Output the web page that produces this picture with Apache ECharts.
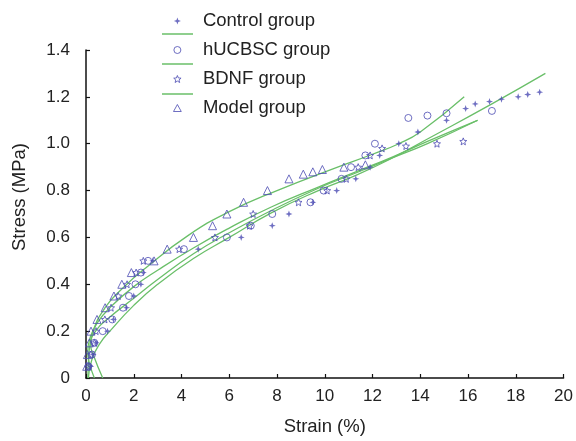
<!DOCTYPE html>
<html>
<head>
<meta charset="utf-8">
<script src="https://cdn.jsdelivr.net/npm/echarts@6/dist/echarts.min.js"></script>
<style>
  html, body { margin: 0; padding: 0; background: #fff; }
  #chart { width: 576px; height: 441px; }
</style>
</head>
<body>
<div id="chart"></div>
<script>
// Scatter data: strain (%) and stress (MPa)
const controlStrain = [0.2, 0.3, 0.42, 0.9, 1.15, 1.7, 2.0, 2.3, 2.4, 2.8, 4.7, 6.5, 7.8, 8.5, 9.5, 10.5, 11.3, 11.9, 12.3, 13.1, 13.9, 15.1, 15.9, 16.3, 16.9, 17.4, 18.1, 18.5, 19.0]
const controlStress = [0.05, 0.10, 0.15, 0.20, 0.25, 0.30, 0.35, 0.40, 0.45, 0.50, 0.55, 0.60, 0.65, 0.70, 0.75, 0.80, 0.85, 0.90, 0.95, 1.00, 1.05, 1.10, 1.15, 1.17, 1.18, 1.19, 1.20, 1.21, 1.22]

const hucbscStrain = [0.1, 0.25, 0.35, 0.7, 1.1, 1.55, 1.8, 2.07, 2.3, 2.6, 4.1, 5.9, 6.9, 7.8, 9.4, 9.95, 10.7, 11.1, 11.7, 12.1, 13.5, 14.3, 15.1, 17.0]
const hucbscStress = [0.05, 0.10, 0.15, 0.20, 0.25, 0.30, 0.35, 0.40, 0.45, 0.50, 0.55, 0.60, 0.65, 0.70, 0.75, 0.80, 0.85, 0.90, 0.95, 1.00, 1.11, 1.12, 1.13, 1.14]

const bdnfStrain = [0.12, 0.2, 0.35, 0.42, 0.79, 1.05, 1.35, 1.72, 2.1, 2.4, 3.9, 5.4, 6.85, 7.0, 8.9, 10.1, 10.9, 11.4, 11.9, 12.4, 13.4, 14.7, 15.8]
const bdnfStress = [0.05, 0.10, 0.15, 0.20, 0.25, 0.30, 0.35, 0.40, 0.45, 0.50, 0.55, 0.60, 0.65, 0.70, 0.75, 0.80, 0.85, 0.90, 0.95, 0.98, 0.99, 1.00, 1.01]

const modelStrain = [0.03, 0.06, 0.14, 0.21, 0.46, 0.8, 1.17, 1.5, 1.9, 2.85, 3.4, 4.5, 5.3, 5.9, 6.6, 7.6, 8.5, 9.1, 9.5, 9.9, 10.8, 11.7]
const modelStress = [0.05, 0.10, 0.15, 0.20, 0.25, 0.30, 0.35, 0.40, 0.45, 0.50, 0.55, 0.60, 0.65, 0.70, 0.75, 0.80, 0.85, 0.87, 0.88, 0.89, 0.90, 0.91]

// Trend curves, points
const controlFitStrain = [0.1, 0.25, 0.6, 1.0, 2.0, 3.0, 4.5, 6.0, 7.76, 9.73, 11.3, 12.85, 14.3, 17.0, 19.24]
const controlFitStress = [0.0, 0.08, 0.15, 0.2, 0.31, 0.40, 0.51, 0.60, 0.705, 0.80, 0.865, 0.94, 1.02, 1.17, 1.30]

const hucbscFitStrain = [0.7, 0.3, 0.2, 0.4, 1.0, 2.0, 3.0, 4.5, 6.0, 7.76, 9.73, 11.3, 12.85, 14.3, 16.4]
const hucbscFitStress = [0.0, 0.1, 0.14, 0.2, 0.26, 0.34, 0.42, 0.53, 0.62, 0.715, 0.81, 0.875, 0.94, 1.0, 1.10]

const bdnfFitStrain = [0.35, 0.15, 0.07, 0.2, 0.5, 1.0, 2.0, 3.0, 4.5, 6.0, 7.76, 9.73, 11.3, 12.85, 14.3, 16.4]
const bdnfFitStress = [0.0, 0.06, 0.11, 0.18, 0.24, 0.3, 0.39, 0.46, 0.555, 0.64, 0.73, 0.815, 0.88, 0.944, 1.01, 1.10]

const modelFitStrain = [0.08, 0.12, 0.3, 0.8, 1.5, 2.5, 4.3, 6.0, 8.0, 10.4, 12.0, 13.1, 14.0, 15.84]
const modelFitStress = [0.0, 0.1, 0.2, 0.3, 0.38, 0.47, 0.61, 0.71, 0.8, 0.895, 0.955, 1.0, 1.05, 1.2]

const pairs = (xs, ys) => xs.map((x, i) => [x, ys[i]])

const font = 'Liberation Sans, Arial, sans-serif'
const markColor = '#4b4bb3'
const fitColor = '#6abf69'

const star4 = 'path://M0,-5L1.3,-1.3L5,0L1.3,1.3L0,5L-1.3,1.3L-5,0L-1.3,-1.3Z'
const star5 = 'path://M0,-5L1.3,-1.8L4.76,-1.55L2.1,0.7L2.94,4.05L0,2.2L-2.94,4.05L-2.1,0.7L-4.76,-1.55L-1.3,-1.8Z'
const ring = 'path://M5,0A5,5,0,1,1,-5,0A5,5,0,1,1,5,0Z'
const tri = 'path://M0,-5L5,4L-5,4Z'

const hollow = { color: 'rgba(0,0,0,0)', borderColor: markColor, borderWidth: 1 }

const fitSeries = (name, xs, ys) => ({
  name,
  type: 'line',
  data: pairs(xs, ys),
  smooth: true,
  showSymbol: false,
  silent: true,
  z: 1,
  itemStyle: { color: fitColor },
  lineStyle: { color: fitColor, width: 1.3 }
})

const chart = echarts.init(document.getElementById('chart'))

chart.setOption({
  animation: false,
  textStyle: { fontFamily: font },
  grid: { left: 86, right: 10, top: 50, bottom: 59 },
  legend: [
    {
      data: [
        { name: 'Control group', icon: star4 },
        { name: 'hUCBSC group', icon: ring, itemStyle: hollow },
        { name: 'BDNF group', icon: star5, itemStyle: hollow },
        { name: 'Model group', icon: tri, itemStyle: hollow }
      ],
      orient: 'vertical',
      left: 173,
      top: 11,
      padding: 0,
      itemWidth: 31,
      itemHeight: 7,
      itemGap: 9,
      itemTextGap: 14,
      selectedMode: false,
      textStyle: { fontSize: 18.5, color: '#222', lineHeight: 20, fontFamily: font, padding: [0, 0, 0, 5] }
    },
    {
      data: ['Control fit', 'hUCBSC fit', 'BDNF fit'],
      orient: 'vertical',
      left: 162,
      top: 24,
      padding: 0,
      icon: 'rect',
      itemWidth: 31,
      itemHeight: 1.5,
      itemGap: 10,
      selectedMode: false,
      formatter: () => ' ',
      textStyle: { fontSize: 17, lineHeight: 20 }
    }
  ],
  xAxis: {
    type: 'value',
    min: 0,
    max: 20,
    interval: 2,
    name: 'Strain (%)',
    nameLocation: 'middle',
    nameGap: 39,
    nameTextStyle: { fontSize: 18.5, color: '#222', fontFamily: font },
    splitLine: { show: false },
    axisLine: { lineStyle: { color: '#111', width: 1.5 } },
    axisTick: { inside: true, length: 4, lineStyle: { color: '#111', width: 1.2 } },
    axisLabel: { fontSize: 17, color: '#222', margin: 10, fontFamily: font }
  },
  yAxis: {
    type: 'value',
    min: 0,
    max: 1.4,
    interval: 0.2,
    name: 'Stress (MPa)',
    nameLocation: 'middle',
    nameGap: 57,
    nameTextStyle: { fontSize: 18.5, color: '#222', fontFamily: font, padding: [0, 0, 0, 34] },
    splitLine: { show: false },
    axisLine: { lineStyle: { color: '#111', width: 1.5 } },
    axisTick: { inside: true, length: 4, lineStyle: { color: '#111', width: 1.2 } },
    axisLabel: {
      fontSize: 17,
      color: '#222',
      margin: 16,
      fontFamily: font,
      formatter: v => (v === 0 ? '0' : v.toFixed(1))
    }
  },
  series: [
    fitSeries('Control fit', controlFitStrain, controlFitStress),
    fitSeries('hUCBSC fit', hucbscFitStrain, hucbscFitStress),
    fitSeries('BDNF fit', bdnfFitStrain, bdnfFitStress),
    fitSeries('Model fit', modelFitStrain, modelFitStress),
    {
      name: 'Control group',
      type: 'scatter',
      data: pairs(controlStrain, controlStress),
      symbol: star4,
      symbolSize: 7,
      z: 3,
      itemStyle: { color: markColor }
    },
    {
      name: 'hUCBSC group',
      type: 'scatter',
      data: pairs(hucbscStrain, hucbscStress),
      symbol: 'circle',
      symbolSize: 7,
      z: 3,
      itemStyle: hollow
    },
    {
      name: 'BDNF group',
      type: 'scatter',
      data: pairs(bdnfStrain, bdnfStress),
      symbol: star5,
      symbolSize: 7,
      z: 3,
      itemStyle: hollow
    },
    {
      name: 'Model group',
      type: 'scatter',
      data: pairs(modelStrain, modelStress),
      symbol: 'triangle',
      symbolSize: 8,
      z: 3,
      itemStyle: hollow
    }
  ]
})
</script>
</body>
</html>
